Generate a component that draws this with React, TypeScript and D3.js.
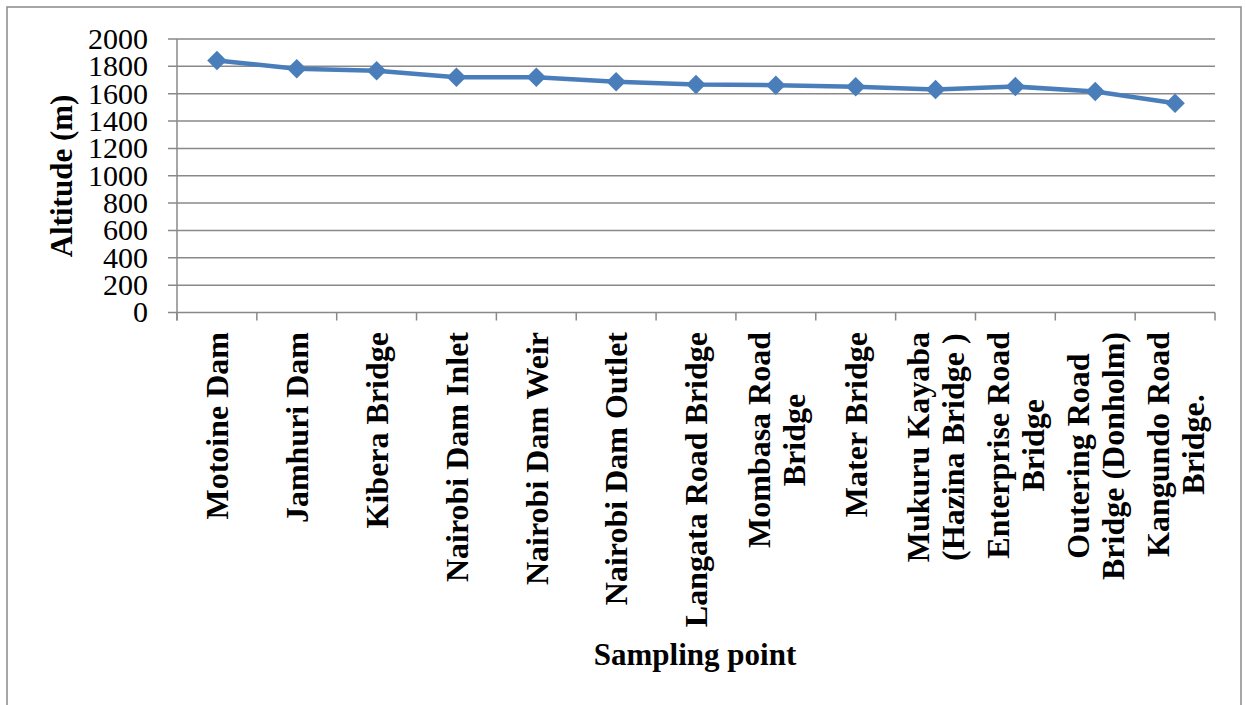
import React, { useRef, useEffect } from 'react';
import * as d3 from 'd3';

// sampling points along the river, each label split into its printed lines
const labelLines: string[][] = [
  ['Motoine Dam'],
  ['Jamhuri Dam'],
  ['Kibera  Bridge'],
  ['Nairobi Dam Inlet'],
  ['Nairobi Dam Weir'],
  ['Nairobi Dam Outlet'],
  ['Langata Road Bridge'],
  ['Mombasa Road', 'Bridge'],
  ['Mater Bridge'],
  ['Mukuru Kayaba', '(Hazina Bridge )'],
  ['Enterprise Road', 'Bridge'],
  ['Outering Road', 'Bridge (Donholm)'],
  ['Kangundo Road', 'Bridge.'],
];
const categories = labelLines.map(l => l.join(' '));
const altitudes = [1843, 1783, 1768, 1720, 1720, 1688, 1667, 1662, 1650, 1630, 1652, 1616, 1530];
const yTicks = [0, 200, 400, 600, 800, 1000, 1200, 1400, 1600, 1800, 2000];

const W = 1246;
const H = 705;
const SERIF = '"Liberation Serif", "Times New Roman", serif';
const GRID = '#898989';
const BLUE = '#4a7ebb';

const App = () => {
  const svgRef = useRef<SVGSVGElement | null>(null);

  useEffect(() => {
    if (!svgRef.current) return;
    const svg = d3.select(svgRef.current);
    svg.selectAll('*').remove();

    const left = 177, right = 1215, top = 39, bottom = 312.5;

    const x = d3.scaleBand().domain(categories).range([left, right]);
    const y = d3.scaleLinear().domain([0, 2000]).range([bottom, top]);

    // outer frame
    svg.append('rect')
      .attr('x', 7).attr('y', 7)
      .attr('width', 1234).attr('height', 710)
      .attr('fill', 'white')
      .attr('stroke', GRID)
      .attr('stroke-width', 1.5);

    // horizontal gridlines + y ticks
    yTicks.forEach(t => {
      svg.append('line')
        .attr('x1', 168).attr('x2', right)
        .attr('y1', y(t)).attr('y2', y(t))
        .attr('stroke', GRID)
        .attr('stroke-width', 1.5);
      svg.append('text')
        .attr('x', 148).attr('y', y(t))
        .attr('dy', '0.33em')
        .attr('text-anchor', 'end')
        .attr('font-family', SERIF)
        .attr('font-size', 30)
        .attr('fill', '#000')
        .text(t);
    });

    // y axis line
    svg.append('line')
      .attr('x1', left).attr('x2', left)
      .attr('y1', top).attr('y2', bottom + 8)
      .attr('stroke', GRID).attr('stroke-width', 1.5);

    // x axis category boundary ticks
    const bounds = categories.map(c => x(c) as number).concat([right]);
    bounds.forEach(b => {
      svg.append('line')
        .attr('x1', b).attr('x2', b)
        .attr('y1', bottom).attr('y2', bottom + 8)
        .attr('stroke', GRID).attr('stroke-width', 1.5);
    });

    // x labels, rotated, top aligned under the axis
    const labelTop = 332;
    const lineGap = 35;
    labelLines.forEach((lines, i) => {
      const cx = (x(categories[i]) as number) + x.bandwidth() / 2;
      const g = svg.append('g');
      const texts = lines.map(line => g.append('text')
        .attr('text-anchor', 'middle')
        .attr('font-family', SERIF)
        .attr('font-weight', 'bold')
        .attr('font-size', 32)
        .attr('fill', '#000')
        .text(line));
      const maxLen = d3.max(texts, t => (t.node() as SVGTextElement).getComputedTextLength()) || 0;
      const cy = labelTop + maxLen / 2;
      texts.forEach((t, j) => {
        const off = (j - (lines.length - 1) / 2) * lineGap;
        t.attr('transform', `translate(${cx + off},${cy}) rotate(-90)`)
          .attr('dy', '0.35em');
      });
    });

    // axis titles
    svg.append('text')
      .attr('transform', 'translate(72,176) rotate(-90)')
      .attr('text-anchor', 'middle')
      .attr('font-family', SERIF)
      .attr('font-weight', 'bold')
      .attr('font-size', 31)
      .attr('fill', '#000')
      .text('Altitude (m)');

    svg.append('text')
      .attr('x', 695).attr('y', 665)
      .attr('text-anchor', 'middle')
      .attr('font-family', SERIF)
      .attr('font-weight', 'bold')
      .attr('font-size', 31)
      .attr('fill', '#000')
      .text('Sampling point');

    // series line
    const pts = altitudes.map((v, i) => [
      (x(categories[i]) as number) + x.bandwidth() / 2,
      y(v),
    ] as [number, number]);

    svg.append('path')
      .datum(pts)
      .attr('d', d3.line())
      .attr('fill', 'none')
      .attr('stroke', BLUE)
      .attr('stroke-width', 4.5)
      .attr('stroke-linejoin', 'round');

    const diamond = d3.symbol().type(d3.symbolSquare).size(190);
    svg.selectAll('.marker')
      .data(pts)
      .enter()
      .append('path')
      .attr('class', 'marker')
      .attr('d', diamond)
      .attr('transform', d => `translate(${d[0]},${d[1]}) rotate(45)`)
      .attr('fill', BLUE);
  }, []);

  return (
    <svg
      ref={svgRef}
      width={W}
      height={H}
      style={{ position: 'absolute', left: 0, top: 0, background: 'white' }}
    />
  );
};

export default App;
